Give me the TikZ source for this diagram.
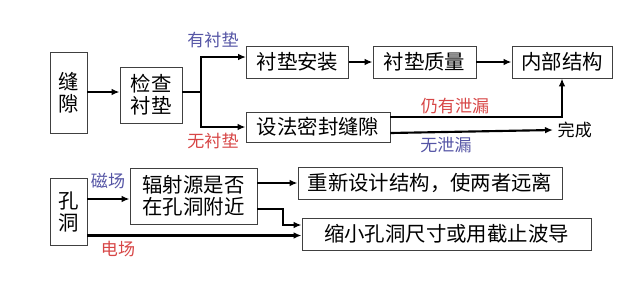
\documentclass[tikz,border=0pt]{standalone}
\usepackage{fontspec}
\usepackage{xcolor}
\usetikzlibrary{arrows.meta}
\newfontfamily\cjk{Noto Sans CJK SC}
\definecolor{labblue}{RGB}{85,85,165}
\definecolor{labred}{RGB}{215,70,70}
\tikzset{
  box/.style={draw=black!75,line width=0.7pt,inner sep=0pt,align=center,
    font=\cjk\fontsize{15.3}{16.5}\selectfont},
  flow/.style={-{Latex[length=6pt,width=5pt]},line width=1.6pt},
  lab/.style={font=\cjk\fontsize{12.8}{14}\selectfont}
}

\begin{document}
\begin{tikzpicture}[x=0.75pt,y=0.75pt]
  \useasboundingbox (0,0) rectangle (640,280);
  % upper part: gap
  \node[box,minimum width=27.75pt,minimum height=60.75pt] (gap) at (68.5,187.5) {缝\\隙};
  \node[box,minimum width=46.5pt,minimum height=42pt] (check) at (151,185) {检查\\衬垫};
  \node[box,minimum width=76.5pt,minimum height=24pt] (pad) at (297.5,218) {衬垫安装};
  \node[box,minimum width=77.25pt,minimum height=24pt] (quality) at (424.5,218) {衬垫质量};
  \node[box,minimum width=75pt,minimum height=24pt] (inner) at (562,218) {内部结构};
  \node[box,minimum width=108pt,minimum height=22.5pt] (seal) at (318,153) {设法密封缝隙};
  \node[lab,anchor=west] (done) at (553,150) {完成};

  \draw[flow] (gap.east |- 0,188) -- (check.west |- 0,188);
  \draw[line width=1.6pt] (check.east |- 0,188) -- (201,188) coordinate (split);
  \draw[flow] (split) |- ([yshift=3.75pt]pad.west);
  \draw[flow] (split) |- (seal.west);
  \foreach \a/\b in {pad/quality,quality/inner} {
    \draw[flow] (\a) -- (\b);
  }
  \draw[flow] ([yshift=7.5pt]seal.east) -| (inner.south);
  \draw[flow] ([yshift=-4.5pt]seal.east) -- (done.west);
  \node[lab,text=labblue] (padyes) at (213,240) {有衬垫};
  \node[lab,text=labred] (padno) at (213,139) {无衬垫};
  \node[lab,text=labred] (leak) at (455,174) {仍有泄漏};
  \node[lab,text=labblue] (noleak) at (446,135) {无泄漏};

  % lower part: hole
  \node[box,minimum width=27.75pt,minimum height=50.25pt] (hole) at (68.5,68.5) {孔\\洞};
  \node[box,minimum width=95.25pt,minimum height=42pt] (src) at (193.5,84) {辐射源是否\\在孔洞附近};
  \node[box,minimum width=198pt,minimum height=24pt] (redesign) at (430,97) {重新设计结构，使两者远离};
  \node[box,minimum width=216.75pt,minimum height=24pt] (shrink) at (446.5,46) {缩小孔洞尺寸或用截止波导};

  \draw[flow] (hole.east |- 0,81) -- (src.west |- 0,81);
  \draw[flow] (hole.east |- 0,44.5) -- (shrink.west |- 0,44.5);
  \draw[flow] (src.east |- redesign) -- (redesign.west);
  \draw[flow] (src.east |- 0,71) -- (283,71) |- (shrink.west |- 0,55);
  \node[lab,text=labblue] (magnetic) at (108,99) {磁场};
  \node[lab,text=labred] (electric) at (118,31) {电场};
\end{tikzpicture}
\end{document}
